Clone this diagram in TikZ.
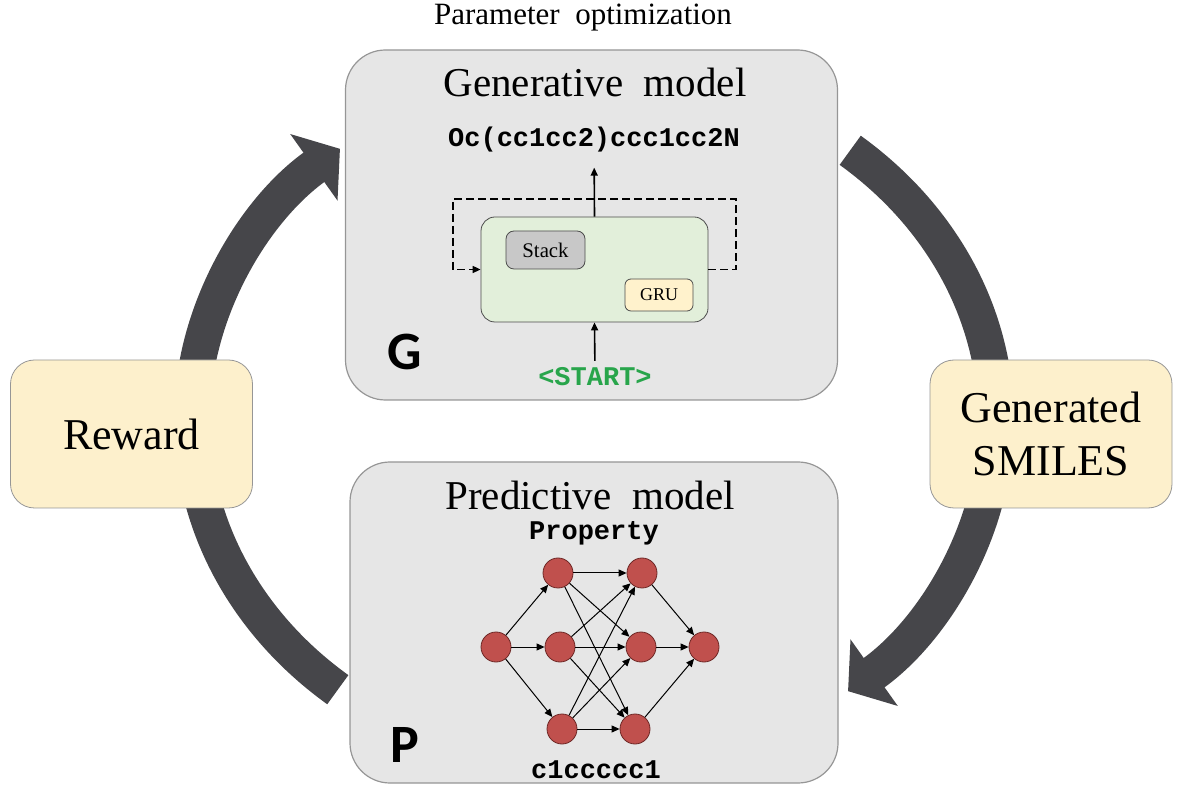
\documentclass[tikz,border=0pt]{standalone}
\usepackage{fontspec}
\setmainfont{Liberation Serif}
\setmonofont{Liberation Mono}
\newfontfamily\lettrefont{Carlito}
\usetikzlibrary{arrows.meta}
\definecolor{fondgris}{RGB}{230,230,230}
\definecolor{bordgris}{RGB}{150,150,150}
\definecolor{creme}{RGB}{253,240,204}
\definecolor{vertpale}{RGB}{226,239,218}
\definecolor{gristack}{RGB}{200,200,200}
\definecolor{jaunegru}{RGB}{255,242,204}
\definecolor{rouge}{RGB}{192,80,77}
\definecolor{rougefonce}{RGB}{110,40,38}
\definecolor{vertstart}{RGB}{40,165,75}
\definecolor{grisfleche}{RGB}{70,70,74}

\begin{document}
\begin{tikzpicture}[x=0.5pt,y=-0.5pt]
\tikzset{modele/.style={draw=bordgris, fill=fondgris, rounded corners=20pt, minimum width=246pt, line width=0.6pt},
  recompense/.style={draw=bordgris, fill=creme, rounded corners=12pt, minimum width=121pt, minimum height=74pt, font=\fontsize{22}{26.5}\selectfont, align=center},
  titre/.style={font=\fontsize{20.5}{24}\selectfont},
  code/.style={font=\fontsize{13.5}{16}\selectfont\ttfamily\bfseries},
  lettre/.style={font=\lettrefont\bfseries\fontsize{27}{30}\selectfont},
  neurone/.style={draw=rougefonce, fill=rouge, circle, minimum size=15pt, inner sep=0pt},
  lien/.style={-{Triangle[length=4pt,width=3.5pt]}, line width=0.5pt},
  grossefleche/.style={grisfleche, line width=18pt, -{Triangle[length=16pt,width=40pt]}}}
\useasboundingbox (0,0) rectangle (1182,795);
% fleches du cycle
\coordinate (C1) at (337.8,689.7);
\coordinate (C2) at (850.2,150.3);
\draw[grossefleche] (C1) arc[start angle=129.6, end angle=230.8, x radius=402, y radius=350];
\draw[grossefleche] (C2) arc[start angle=-50.4, end angle=50.8, x radius=402, y radius=350];
% boites
\node[modele, minimum height=175pt] (G) at (591.5,225) {};
\node[modele, minimum height=160.5pt, minimum width=244pt] (P) at (594,622.5) {};
\node[recompense] (R) at (131.5,434) {Reward};
\node[recompense] (SM) at (1051,434) {Generated\\SMILES};
\node[font=\fontsize{15.5}{18}\selectfont] (PO) at (583,18) {Parameter\ \ optimization};
% modele generatif
\node[titre] (GT) at (595,82) {Generative\ \ model};
\node[code] (Sortie) at (594,140) {Oc(cc1cc2)ccc1cc2N};
\node[draw=black!70, fill=vertpale, rounded corners=7pt, minimum width=113.5pt, minimum height=52.5pt] (Cellule) at (594.5,269.5) {};
\node[draw=black!70, fill=gristack, rounded corners=4pt, minimum width=39.5pt, minimum height=19pt, font=\fontsize{10.4}{12}\selectfont] (Pile) at (545.5,250) {Stack};
\node[draw=black!70, fill=jaunegru, rounded corners=3pt, minimum width=34pt, minimum height=16pt, font=\fontsize{9}{11}\selectfont] (GRU) at (659,295) {GRU};
\node[code, text=vertstart] (Debut) at (595,377) {<START>};
\node[lettre] (LG) at (405,352) {G};
\coordinate (BoucleD) at (736,199);
\coordinate (BoucleG) at (453,199);
\draw[lien, dashed, dash pattern=on 4pt off 2pt, line width=0.8pt] (Cellule.east) -| (BoucleD) -- (BoucleG) |- (Cellule.west);
\draw[lien, line width=0.8pt, shorten >=4pt] (Cellule.north) -- (Sortie);
\draw[lien, line width=0.8pt] (Debut) -- (Cellule.south);
% modele predictif
\node[titre] (PT) at (590,495) {Predictive\ \ model};
\node[code] (Prop) at (594,533) {Property};
\node[code] (Mol) at (596,770) {c1ccccc1};
\node[lettre] (LP) at (405,745) {P};
\node[neurone] (E) at (496,647) {};
\node[neurone] (H1) at (558,573) {};
\node[neurone] (H2) at (560,647) {};
\node[neurone] (H3) at (562,729) {};
\node[neurone] (K1) at (642,573) {};
\node[neurone] (K2) at (641,647) {};
\node[neurone] (K3) at (635,729) {};
\node[neurone] (Y) at (704,647) {};
\draw[lien] (E) -- (H1);
\draw[lien] (E) -- (H2);
\draw[lien] (E) -- (H3);
\draw[lien] (H1) -- (K1);
\draw[lien] (H1) -- (K2);
\draw[lien] (H1) -- (K3);
\draw[lien] (H2) -- (K1);
\draw[lien] (H2) -- (K2);
\draw[lien] (H2) -- (K3);
\draw[lien] (H3) -- (K1);
\draw[lien] (H3) -- (K2);
\draw[lien] (H3) -- (K3);
\draw[lien] (K1) -- (Y);
\draw[lien] (K2) -- (Y);
\draw[lien] (K3) -- (Y);
\end{tikzpicture}
\end{document}
